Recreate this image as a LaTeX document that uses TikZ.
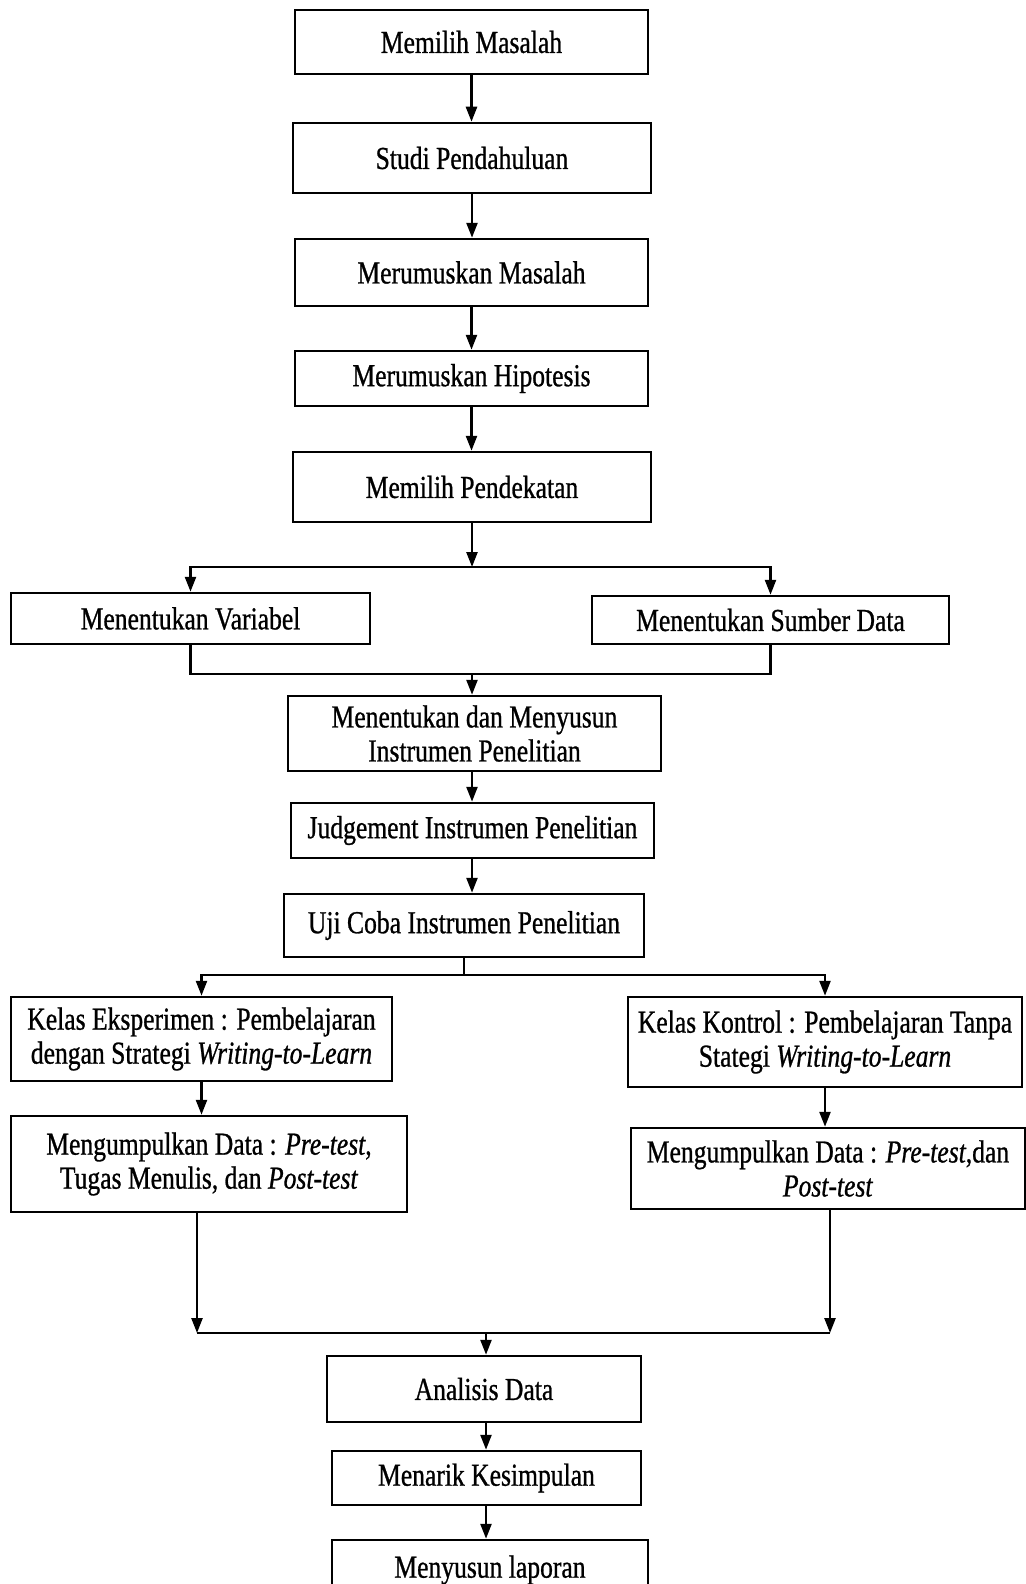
\documentclass[tikz,border=0pt]{standalone}
\usepackage{fontspec}
\setmainfont{Liberation Serif}[FakeStretch=0.8, FakeBold=0.8]
\usetikzlibrary{arrows.meta}

\begin{document}
\begin{tikzpicture}[
		x=1pt, y=-1pt,
		>={Triangle[width=11pt,length=15pt]},
		line width=2.5pt,
		box/.style={draw, line width=2.5pt, align=center, inner sep=0pt, font=\fontsize{32}{34}\selectfont},
		]
		
		\useasboundingbox (0,0) rectangle (1025,1584);
		
		% --------------------------------------------------
		% Upper steps
		% --------------------------------------------------
		\node[box, minimum width=353pt, minimum height=64pt] (B1) at (471.5,42) {Memilih Masalah};
		\node[box, minimum width=358pt, minimum height=70pt] (B2) at (472,158) {Studi Pendahuluan};
		\node[box, minimum width=353pt, minimum height=67pt] (B3) at (471.5,272.5) {Merumuskan Masalah};
		\node[box, minimum width=353pt, minimum height=55pt] (B4) at (471.5,378.5) {Merumuskan Hipotesis};
		\node[box, minimum width=358pt, minimum height=70pt] (B5) at (472,487) {Memilih Pendekatan};
		
		\draw[->] (B1.south) -- (B1.south |- B2.north);
		\draw[->] (B2.south) -- (B2.south |- B3.north);
		\draw[->] (B3.south) -- (B3.south |- B4.north);
		\draw[->] (B4.south) -- (B4.south |- B5.north);
		
		% --------------------------------------------------
		% Variabel and sumber data
		% --------------------------------------------------
		\node[box, minimum width=359pt, minimum height=51pt] (V) at (190.5,618.5) {Menentukan Variabel};
		\node[box, minimum width=357pt, minimum height=48pt] (SD) at (770.5,620) {Menentukan Sumber Data};
		
		\coordinate (s1) at (472,567);
		\coordinate (m1) at (472,674);
		
		\draw[->] (B5.south) -- (s1);
		\draw[->] (s1) -| (V);
		\draw[->] (s1) -| (SD);
		\draw (V.south) |- (m1);
		\draw (SD.south) |- (m1);
		
		% --------------------------------------------------
		% Instrumen
		% --------------------------------------------------
		\node[box, minimum width=373pt, minimum height=75pt] (I1) at (474.5,733.5) {Menentukan dan Menyusun\\Instrumen Penelitian};
		\node[box, minimum width=363pt, minimum height=55pt] (I2) at (472.5,830.5) {Judgement Instrumen Penelitian};
		\node[box, minimum width=360pt, minimum height=63pt] (I3) at (464,925.5) {Uji Coba Instrumen Penelitian};
		
		\draw[->] (m1) -- (m1 |- I1.north);
		\draw[->] (I1.south -| m1) -- (m1 |- I2.north);
		\draw[->] (I2.south -| m1) -- (m1 |- I3.north);
		
		% --------------------------------------------------
		% Kelas eksperimen and kelas kontrol
		% --------------------------------------------------
		\node[box, minimum width=381pt, minimum height=84pt] (KE) at (201.5,1039) {Kelas Eksperimen : Pembelajaran\\dengan Strategi \textit{Writing-to-Learn}};
		\node[box, minimum width=394pt, minimum height=90pt] (KK) at (825,1042) {Kelas Kontrol : Pembelajaran Tanpa\\Stategi \textit{Writing-to-Learn}};
		\node[box, minimum width=396pt, minimum height=96pt] (DE) at (209,1164) {Mengumpulkan Data : \textit{Pre-test},\\Tugas Menulis, dan \textit{Post-test}};
		\node[box, minimum width=394pt, minimum height=81pt] (DK) at (828,1168.5) {Mengumpulkan Data : \textit{Pre-test},dan\\\textit{Post-test}};
		
		\coordinate (s2) at (463,975);
		
		\draw (I3.south) -- (I3.south |- s2);
		\draw[->] (s2) -| (KE);
		\draw[->] (s2) -| (KK);
		\draw[->] (KE.south) -- (KE.south |- DE.north);
		\draw[->] (KK.south) -- (KK.south |- DK.north);
		
		% --------------------------------------------------
		% Lower steps
		% --------------------------------------------------
		\node[box, minimum width=314pt, minimum height=66pt] (A) at (484,1389) {Analisis Data};
		\node[box, minimum width=309pt, minimum height=54pt] (K) at (486.5,1478) {Menarik Kesimpulan};
		\node[box, minimum width=316pt, minimum height=60pt] (L) at (490,1570) {Menyusun laporan};
		
		\coordinate (ml) at (197,1333);
		\coordinate (mr) at (830,1333);
		\coordinate (m2) at (486,1333);
		
		\draw[->] (DE.south -| ml) -- (ml);
		\draw[->] (DK.south -| mr) -- (mr);
		\draw (ml) -- (mr);
		\draw[->] (m2) -- (m2 |- A.north);
		\draw[->] (A.south -| m2) -- (m2 |- K.north);
		\draw[->] (K.south -| m2) -- (m2 |- L.north);
		
	\end{tikzpicture}
\end{document}
